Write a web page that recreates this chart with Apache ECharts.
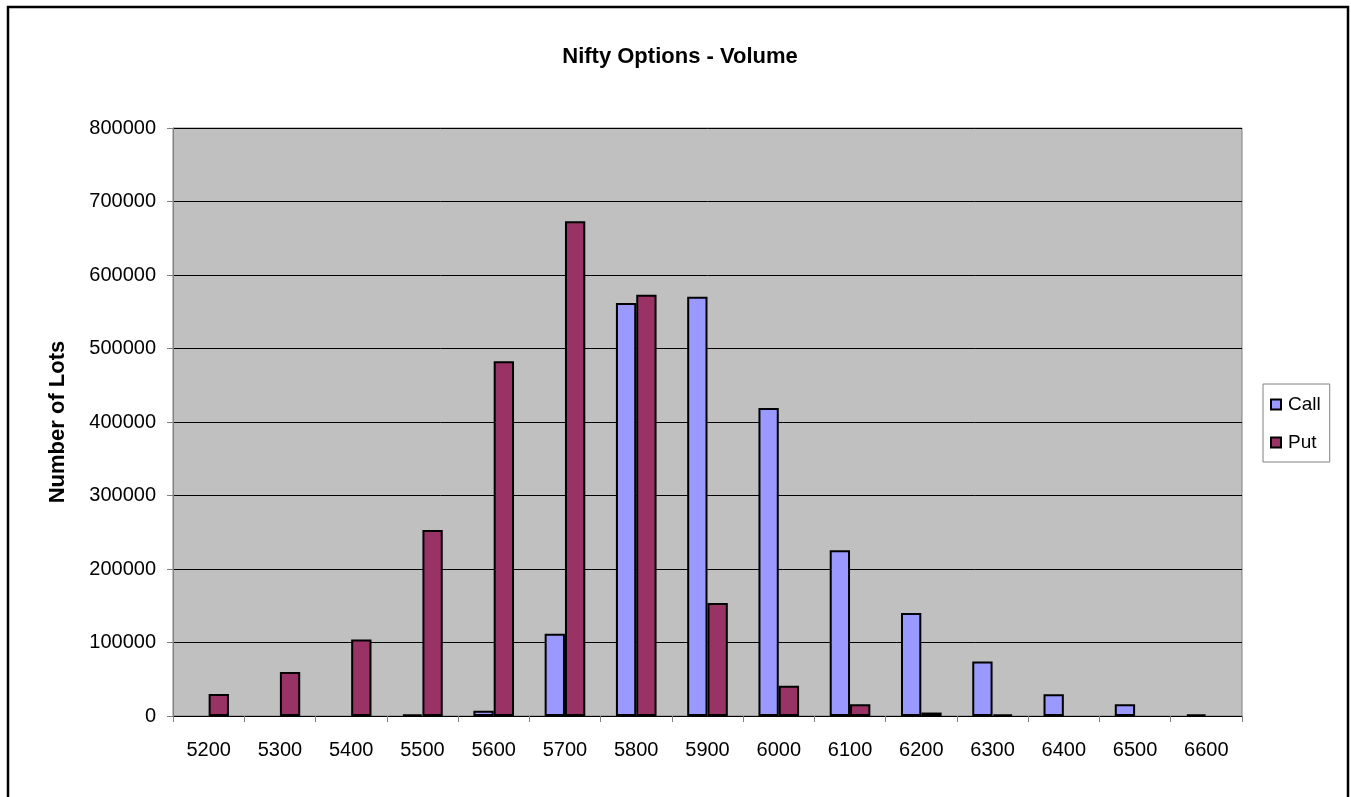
<!DOCTYPE html>
<html>
<head>
<meta charset="utf-8">
<script src="https://cdn.jsdelivr.net/npm/echarts@6/dist/echarts.min.js"></script>
<style>
html,body{margin:0;padding:0;background:#fff;}
#chart{width:1351px;height:797px;}
</style>
</head>
<body>
<div id="chart"></div>
<script>
const strikes = ['5200','5300','5400','5500','5600','5700','5800','5900','6000','6100','6200','6300','6400','6500','6600'];
const callVolume = [0, 0, 0, 2000, 7300, 112000, 562000, 570500, 419000, 225600, 140000, 74000, 29700, 16000, 2000];
const putVolume = [30000, 60000, 104000, 253000, 482500, 673000, 573000, 153700, 41000, 16000, 4700, 2000, 0, 0, 0];
const yTicks = { min: 0, max: 800000, interval: 100000 };

// zero volumes are not drawn as bars in the original
const toBars = arr => arr.map(v => (v === 0 ? null : v));

const chart = echarts.init(document.getElementById('chart'), null, {renderer: 'canvas'});
const font = 'Liberation Sans, Arial, sans-serif';
chart.setOption({
  animation: false,
  backgroundColor: '#fff',
  graphic: [{
    type: 'rect', z: -1,
    shape: {x: 8, y: 7, width: 1340, height: 800},
    style: {fill: 'none', stroke: '#000', lineWidth: 2.5}
  }],
  title: {
    text: 'Nifty Options - Volume',
    left: 675, top: 41, textAlign: 'center',
    textStyle: {fontFamily: font, fontSize: 22, fontWeight: 'bold', color: '#000'}
  },
  legend: {
    orient: 'vertical',
    left: 1263, top: 384,
    padding: [11, 9, 10, 7],
    itemGap: 19,
    itemWidth: 10, itemHeight: 10,
    icon: 'rect',
    backgroundColor: '#fff',
    borderColor: '#808080', borderWidth: 1,
    textStyle: {fontFamily: font, fontSize: 19, color: '#000', padding: [0, 0, 0, 2]},
    data: ['Call', 'Put']
  },
  grid: {
    left: 173, top: 128, right: 109, bottom: 81,
    show: true, backgroundColor: '#C0C0C0', borderColor: '#808080', borderWidth: 1
  },
  xAxis: {
    type: 'category',
    data: strikes,
    axisLine: {lineStyle: {color: '#000', width: 1}},
    axisTick: {show: true, length: 6, lineStyle: {color: '#808080'}},
    axisLabel: {fontFamily: font, fontSize: 20, color: '#000', margin: 24},
    splitLine: {show: false}
  },
  yAxis: {
    type: 'value',
    min: yTicks.min, max: yTicks.max, interval: yTicks.interval,
    name: 'Number of Lots',
    nameLocation: 'middle',
    nameGap: 104,
    nameTextStyle: {fontFamily: font, fontSize: 22, fontWeight: 'bold', color: '#000'},
    axisLine: {show: true, lineStyle: {color: '#808080', width: 1}},
    axisTick: {show: true, length: 6, lineStyle: {color: '#808080'}},
    axisLabel: {fontFamily: font, fontSize: 20, color: '#000', margin: 17, formatter: v => String(v)},
    splitLine: {show: true, lineStyle: {color: '#000', width: 1}}
  },
  series: [{
    name: 'Call', type: 'bar', data: toBars(callVolume),
    barGap: '0%', barCategoryGap: '43%',
    itemStyle: {color: '#9999FF', borderColor: '#000', borderWidth: 2}
  }, {
    name: 'Put', type: 'bar', data: toBars(putVolume),
    barGap: '0%', barCategoryGap: '43%',
    itemStyle: {color: '#993366', borderColor: '#000', borderWidth: 2}
  }]
});
</script>
</body>
</html>
